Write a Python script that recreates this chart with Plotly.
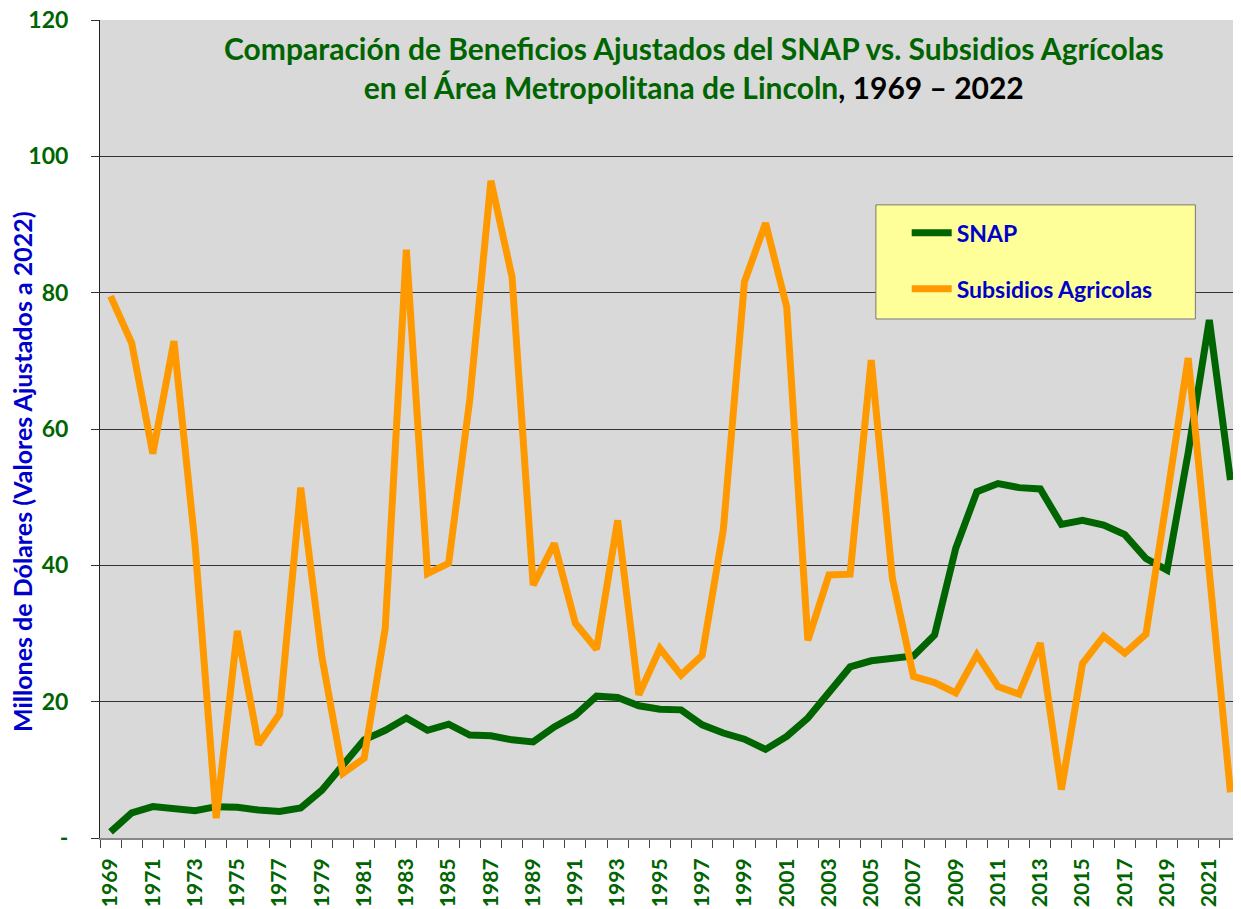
import plotly.graph_objects as go

years = list(range(1969, 2023))
snap = [0.9, 3.7, 4.6, 4.4, 4.0, 4.6, 4.5, 4.1, 3.9, 4.4,
        7.0, 10.7, 14.4, 15.8, 17.6, 15.8, 16.7, 15.1, 15.0, 14.4,
        14.1, 16.3, 18.0, 20.8, 20.6, 19.4, 18.9, 18.8, 16.6, 15.4,
        14.5, 13.0, 14.9, 17.6, 21.3, 25.1, 26.0, 26.3, 26.7, 29.8,
        42.5, 50.8, 52.0, 51.4, 51.2, 46.0, 46.6, 45.9, 44.5, 41.0,
        39.3, 56.5, 76.0, 52.5]
subsidios = [79.5, 72.6, 56.4, 72.9, 43.0, 2.9, 30.4, 13.7, 18.2, 51.4,
             26.6, 9.5, 11.7, 30.8, 86.3, 38.8, 40.3, 64.3, 96.4, 82.3,
             37.1, 43.2, 31.5, 27.7, 46.6, 21.0, 27.8, 23.9, 26.8, 45.2,
             81.6, 90.2, 77.9, 29.0, 38.6, 38.7, 70.1, 38.1, 23.7, 22.8,
             21.3, 26.9, 22.2, 21.1, 28.6, 7.1, 25.6, 29.6, 27.1, 29.9,
             50.0, 70.4, 39.0, 6.7]
ytick_vals = [0, 20, 40, 60, 80, 100, 120]
ytick_text = ["-", "20", "40", "60", "80", "100", "120"]
xtick_years = list(range(1969, 2023, 2))

GREEN = "#006400"
ORANGE = "#FF9900"
BLUE = "#0000CC"
FONT = "Lato"

fig = go.Figure()
fig.add_trace(go.Scatter(x=years, y=snap, mode="lines", name="SNAP",
                         legendgroup="a",
                         line=dict(color=GREEN, width=7)))
fig.add_trace(go.Scatter(x=years, y=subsidios, mode="lines", name="Subsidios Agricolas",
                         legendgroup="b",
                         line=dict(color=ORANGE, width=7)))

fig.update_layout(
    width=1233, height=901,
    margin=dict(l=92, r=0, t=12, b=71),
    paper_bgcolor="white",
    plot_bgcolor="#D9D9D9",
    font=dict(family=FONT),
    showlegend=True,
    legend=dict(
        x=0.707, y=0.766, xanchor="left", yanchor="top",
        bgcolor="rgba(0,0,0,0)", borderwidth=0,
        font=dict(family=FONT, size=23, color=BLUE, weight="bold"),
        tracegroupgap=23,
        itemwidth=40,
    ),
    shapes=[
        dict(type="rect", xref="paper", yref="paper",
             x0=0.680, x1=0.960, y0=0.6345, y1=0.774,
             fillcolor="#FFFF99", line=dict(color="#777777", width=1),
             layer="above"),
    ],
    annotations=[
        dict(
            text=("<b>Comparación de Beneficios Ajustados del SNAP vs. Subsidios Agrícolas</b><br>"
                  "<b>en el Área Metropolitana de Lincoln</b><b><span style='color:black'>, 1969 – 2022</span></b>"),
            x=0.5206, y=0.99, xref="paper", yref="paper",
            xanchor="center", yanchor="top", showarrow=False,
            align="center",
            font=dict(family=FONT, size=30, color=GREEN),
        ),
        dict(
            text="<b>Millones de Dólares (Valores Ajustados a 2022)</b>",
            x=-78 / 1141, y=(838 - 472) / 818, xref="paper", yref="paper",
            xanchor="center", yanchor="middle", showarrow=False,
            textangle=-90,
            font=dict(family=FONT, size=25, color=BLUE),
        ),
    ],
)

fig.update_xaxes(
    range=[1968.5, 2022.5],
    automargin=False,
    tickmode="array", tickvals=xtick_years,
    ticktext=[str(y) for y in xtick_years],
    tickangle=-90,
    ticks="",
    ticklabelstandoff=10,
    ticklabeloverflow="allow",
    tickfont=dict(family=FONT, size=21, color=GREEN, weight="bold"),
    showgrid=False, zeroline=False,
    showline=True, linecolor="#888888", linewidth=2,
    minor=dict(tickvals=[y + 0.5 for y in range(1968, 2023)],
               ticks="outside", ticklen=8, tickcolor="#444444", showgrid=False),
)
fig.update_yaxes(
    range=[0, 120],
    automargin=False,
    tickmode="array", tickvals=ytick_vals, ticktext=ytick_text,
    ticks="outside", ticklen=8, tickcolor="#333333",
    ticklabelstandoff=18,
    ticklabeloverflow="allow",
    tickfont=dict(family=FONT, size=23, color=GREEN, weight="bold"),
    showgrid=True, gridcolor="#333333", gridwidth=1,
    zeroline=False,
    showline=True, linecolor="#222222", linewidth=1,
)

fig.write_html("out.html")
